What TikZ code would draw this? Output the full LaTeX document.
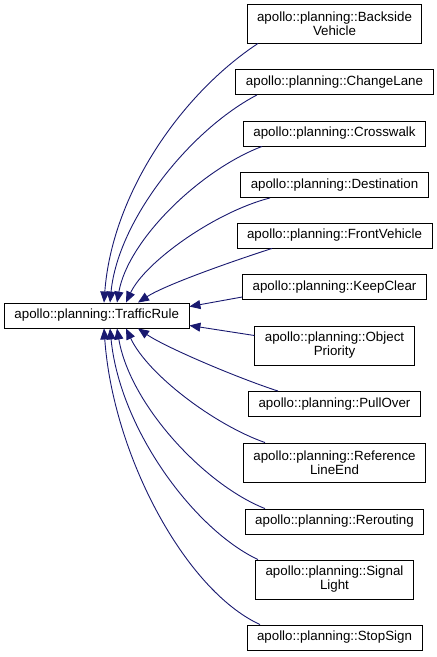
\documentclass[tikz,border=0pt]{standalone}
\usepackage{fontspec}
\setmainfont{Liberation Sans}
\usetikzlibrary{arrows.meta}
\definecolor{edgeblue}{RGB}{25,25,112}
\begin{document}
\begin{tikzpicture}[x=1bp,y=-1bp,
  cls/.style={draw=black,line width=0.9bp,fill=white,inner xsep=10bp,inner ysep=0pt,
    font=\fontsize{13.33bp}{14bp}\selectfont,align=center},
  one/.style={cls,minimum height=25bp},
  two/.style={cls,minimum height=39bp},
  inh/.style={draw=edgeblue,line width=0.9bp,-{Triangle[length=11bp,width=9bp]},fill=none}]
\useasboundingbox (0,0) rectangle (437,657);
\node[one,anchor=west] (tr) at (4,315.5) {apollo::planning::TrafficRule};
\node[two] (bv) at (334.5,23.5) {apollo::planning::Backside\\Vehicle};
\node[one] (cl) at (334.5,82) {apollo::planning::ChangeLane};
\node[one] (cw) at (334.5,133.5) {apollo::planning::Crosswalk};
\node[one] (de) at (334.5,185) {apollo::planning::Destination};
\node[one] (fv) at (334.5,235.5) {apollo::planning::FrontVehicle};
\node[one] (kc) at (334.5,287) {apollo::planning::KeepClear};
\node[two] (op) at (334.5,345.5) {apollo::planning::Object\\Priority};
\node[one] (po) at (334.5,404) {apollo::planning::PullOver};
\node[two] (rl) at (334.5,462.5) {apollo::planning::Reference\\LineEnd};
\node[one] (rr) at (334.5,521.5) {apollo::planning::Rerouting};
\node[two] (sl) at (334.5,579.5) {apollo::planning::Signal\\Light};
\node[one] (ss) at (334.5,637.5) {apollo::planning::StopSign};
% upper edges
\draw[inh] ([xshift=-76.5bp]bv.south) .. controls (180,95) and (112,195) .. ([xshift=100bp]tr.north west);
\draw[inh] ([xshift=-77.5bp]cl.south) .. controls (190,130) and (118,220) .. ([xshift=106bp]tr.north west);
\draw[inh] ([xshift=-72.5bp]cw.south) .. controls (200,170) and (128,240) .. ([xshift=113bp]tr.north west);
\draw[inh] ([xshift=-64.5bp]de.south) .. controls (215,212) and (145,262) .. ([xshift=122bp]tr.north west);
\draw[inh] ([xshift=-62.5bp]fv.south) .. controls (230,262) and (165,285) .. ([xshift=134bp]tr.north west);
\draw[inh] ([yshift=-10bp]kc.west) -- ([yshift=-4bp]tr.north east);
\draw[inh] ([yshift=10bp]op.west) -- ([yshift=3bp]tr.south east);
% lower edges
\draw[inh] ([xshift=-56.5bp]po.north) .. controls (235,377) and (165,347) .. ([xshift=134bp]tr.south west);
\draw[inh] ([xshift=-69.5bp]rl.north) .. controls (215,425) and (148,375) .. ([xshift=122bp]tr.south west);
\draw[inh] ([xshift=-69.5bp]rr.north) .. controls (205,485) and (130,405) .. ([xshift=113bp]tr.south west);
\draw[inh] ([xshift=-76.5bp]sl.north) .. controls (195,530) and (120,430) .. ([xshift=106bp]tr.south west);
\draw[inh] ([xshift=-74.5bp]ss.north) .. controls (185,590) and (113,455) .. ([xshift=100bp]tr.south west);
\end{tikzpicture}
\end{document}
